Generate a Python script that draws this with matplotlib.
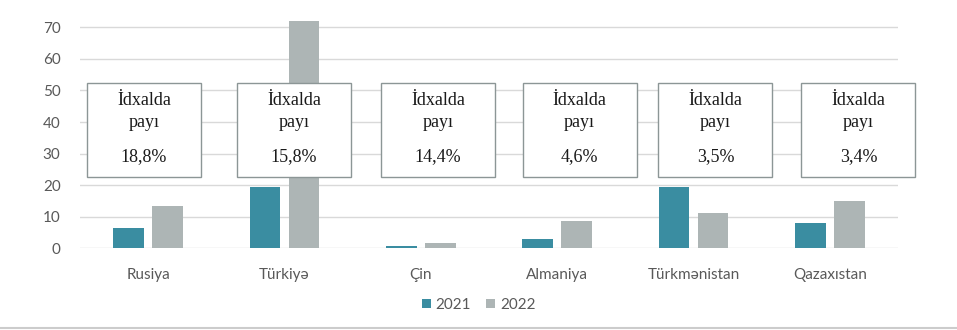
import matplotlib
matplotlib.use("Agg")
import matplotlib.pyplot as plt
from matplotlib.patches import Rectangle
from matplotlib.lines import Line2D
import numpy as np

categories = ["Rusiya", "Türkiyə", "Çin", "Almaniya", "Türkmənistan", "Qazaxıstan"]
values_2021 = [6.4, 19.4, 0.7, 3.0, 19.4, 7.9]
values_2022 = [13.5, 72.0, 1.6, 8.5, 11.3, 14.9]
shares = ["18,8%", "15,8%", "14,4%", "4,6%", "3,5%", "3,4%"]
box_offsets = [-0.03, 0.07, 0.126, 0.164, 0.161, 0.21]
yticks = [0, 10, 20, 30, 40, 50, 60, 70]

c2021 = "#3A8DA1"
c2022 = "#ADB5B5"
txt = "#595959"

fig = plt.figure(figsize=(9.57, 3.30), dpi=100)
ax = fig.add_axes([80/957, 1-248.3/330, (898-80)/957, (248.3-11.5)/330])

x = np.arange(len(categories))
w = 0.227
ax.bar(x - 0.143, values_2021, w, color=c2021, label="2021", zorder=2)
ax.bar(x + 0.143, values_2022, w, color=c2022, label="2022", zorder=2)

ax.set_xlim(-0.5, len(categories) - 0.5)
ax.set_ylim(0, 75)
ax.set_yticks(yticks)
ax.set_xticks(x)
ax.set_xticklabels(categories)
for s in ax.spines.values():
    s.set_visible(False)
ax.tick_params(axis="both", length=0, colors=txt, labelsize=11)
ax.tick_params(axis="x", pad=14)
ax.tick_params(axis="y", pad=14)
for lab in ax.get_xticklabels() + ax.get_yticklabels():
    lab.set_fontfamily("Lato")
for yv in yticks:
    ax.axhline(yv, color="#D9D9D9", lw=1.0, zorder=1)

bw = 0.836
for i, (sh, off) in enumerate(zip(shares, box_offsets)):
    cx = i + off
    ax.add_patch(Rectangle((cx - bw/2, 22.6), bw, 52.4 - 22.6, facecolor="white",
                           edgecolor="#8C9696", lw=1.0, zorder=3, clip_on=False))
    for yy, s in ((46.7, "İdxalda"), (39.7, "payı"), (28.9, sh)):
        ax.text(cx, yy, s, ha="center", va="center", fontsize=13,
                family="Liberation Serif", color="#1A1A1A", zorder=4, clip_on=False)

leg = fig.legend(loc="center", bbox_to_anchor=(0.5, 1 - 305/330), ncol=2, frameon=False,
                 handlelength=0.6, handleheight=0.6, handletextpad=0.3, columnspacing=1.0,
                 prop={"family": "Lato", "size": 11})
for t in leg.get_texts():
    t.set_color(txt)

fig.add_artist(Line2D([0, 1], [0.006, 0.006], color="#CCCCCC", lw=1.5))

fig.savefig("out.png", dpi=100)
